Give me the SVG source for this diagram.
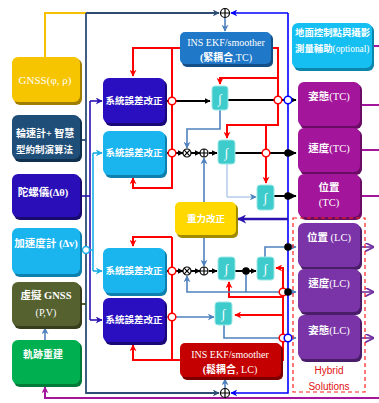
<svg xmlns="http://www.w3.org/2000/svg" width="379" height="403" viewBox="0 0 379 403">
<style>
text{font-family:"Liberation Serif","Noto Sans CJK TC",serif;fill:#fff;dominant-baseline:central;text-anchor:middle}
.b{font-weight:bold}
.sh{opacity:1}
.ln{fill:none;stroke-linejoin:miter}
.rd{stroke:#ff0000;stroke-width:2}
.bk{stroke:#000;stroke-width:2}
.sb{stroke:#4f81bd;stroke-width:1.6}
.ds{stroke:#2e4d75;stroke-width:1.8}
.bl{stroke:#0000ff;stroke-width:1.6}
.ig{stroke:#2a12b0;stroke-width:1.6}
.lb{stroke:#1aaee8;stroke-width:1.6}
.mg{stroke:#a3159b;stroke-width:2}
.pp{stroke:#7030a0;stroke-width:1.6}
.oc{fill:#fff;stroke-width:1.5}
.j{fill:#3ecbcb;stroke:#9ee8e8;stroke-width:1}
</style>
<defs>
<marker id="aK" viewBox="0 0 10 10" refX="9" refY="5" markerWidth="6" markerHeight="6" orient="auto" markerUnits="userSpaceOnUse"><path d="M0,0L10,5L0,10z" fill="#000"/></marker>
<marker id="aR" viewBox="0 0 10 10" refX="9" refY="5" markerWidth="7" markerHeight="7" orient="auto" markerUnits="userSpaceOnUse"><path d="M0,0L10,5L0,10L3,5z" fill="#ff0000"/></marker>
<marker id="aS" viewBox="0 0 10 10" refX="9" refY="5" markerWidth="7" markerHeight="7" orient="auto" markerUnits="userSpaceOnUse"><path d="M0,0L10,5L0,10L3,5z" fill="#4f81bd"/></marker>
<marker id="aD" viewBox="0 0 10 10" refX="9" refY="5" markerWidth="7" markerHeight="7" orient="auto" markerUnits="userSpaceOnUse"><path d="M0,0L10,5L0,10L3,5z" fill="#2e4d75"/></marker>
<marker id="aB" viewBox="0 0 10 10" refX="9" refY="5" markerWidth="7" markerHeight="7" orient="auto" markerUnits="userSpaceOnUse"><path d="M0,0L10,5L0,10L3,5z" fill="#0000ff"/></marker>
<marker id="aI" viewBox="0 0 10 10" refX="9" refY="5" markerWidth="7" markerHeight="7" orient="auto" markerUnits="userSpaceOnUse"><path d="M0,0L10,5L0,10L3,5z" fill="#2a12b0"/></marker>
<marker id="aL" viewBox="0 0 10 10" refX="9" refY="5" markerWidth="7" markerHeight="7" orient="auto" markerUnits="userSpaceOnUse"><path d="M0,0L10,5L0,10L3,5z" fill="#1aaee8"/></marker>
<marker id="aM" viewBox="0 0 10 10" refX="9" refY="5" markerWidth="7" markerHeight="7" orient="auto" markerUnits="userSpaceOnUse"><path d="M0,0L10,5L0,10L3,5z" fill="#a3159b"/></marker>
<marker id="aP" viewBox="0 0 10 10" refX="9" refY="5" markerWidth="9" markerHeight="9" orient="auto" markerUnits="userSpaceOnUse"><path d="M0,0L10,5L0,10" fill="none" stroke="#7030a0" stroke-width="2"/></marker>
<marker id="aG" viewBox="0 0 10 10" refX="9" refY="5" markerWidth="9" markerHeight="9" orient="auto" markerUnits="userSpaceOnUse"><path d="M0,0L10,5L0,10L3,5z" fill="#2a12b0"/></marker>
</defs>
<rect width="379" height="403" fill="#fff"/>

<g id="connectors">
<!-- yellow GNSS -->
<path class="ln" d="M45,57V13H86" stroke="#f5c000" stroke-width="2"/>
<!-- dark steel bus -->
<path class="ln ds" d="M86,13H219" marker-end="url(#aD)"/>
<path class="ln ds" d="M86,13V393H219" marker-end="url(#aD)"/>
<path class="ln ds" d="M80,140H86"/>
<path class="ln" d="M80,304H86" stroke="#3f4a1e" stroke-width="1.8"/>
<!-- sums to EKFs -->
<path class="ln sb" d="M225,18V31" marker-end="url(#aS)"/>
<path class="ln sb" d="M225,388V379" marker-end="url(#aS)"/>
<!-- blue feedback bus -->
<path class="ln bl" d="M288,13H231" marker-end="url(#aB)"/>
<path class="ln bl" d="M288,13V393H231" marker-end="url(#aB)"/>
<!-- gyro -->
<path class="ln ig" d="M80,196H90"/>
<path class="ln ig" d="M90,101V320"/>
<path class="ln ig" d="M90,101H102" marker-end="url(#aI)"/>
<path class="ln ig" d="M90,320H102" marker-end="url(#aI)"/>
<!-- accel -->
<path class="ln lb" d="M80,250H93"/>
<path class="ln lb" d="M93,153V271"/>
<path class="ln lb" d="M93,153H102" marker-end="url(#aL)"/>
<path class="ln lb" d="M93,271H102" marker-end="url(#aL)"/>
<circle cx="86" cy="250" r="3.5" class="oc" stroke="#1aaee8"/>
<!-- red upper (TC) -->
<path class="ln rd" d="M180,48H133V76" marker-end="url(#aR)"/>
<path class="ln rd" d="M172,48V188H133V178" marker-end="url(#aR)"/>
<path class="ln rd" d="M271,48H278V125H227V138" marker-end="url(#aR)"/>
<path class="ln rd" d="M278,78H220V84" marker-end="url(#aR)"/>
<path class="ln rd" d="M266,125V183" marker-end="url(#aR)"/>
<!-- red lower (LC) -->
<path class="ln rd" d="M172,237H133V246" marker-end="url(#aR)"/>
<path class="ln rd" d="M172,237V360H180"/>
<path class="ln rd" d="M172,360H133V345" marker-end="url(#aR)"/>
<path class="ln rd" d="M281,360H283V268H276" marker-end="url(#aR)"/>
<path class="ln rd" d="M283,297H229V282" marker-end="url(#aR)"/>
<path class="ln rd" d="M283,315H235" marker-end="url(#aR)"/>
<!-- black main rows -->
<path class="ln bk" d="M165,101H210" marker-end="url(#aK)"/>
<path class="ln bk" d="M228,100H296" marker-end="url(#aK)"/>
<path class="ln bk" d="M165,153H183" marker-end="url(#aK)"/>
<path class="ln bk" d="M191,153H200" marker-end="url(#aK)"/>
<path class="ln bk" d="M209,153H217" marker-end="url(#aK)"/>
<path class="ln bk" d="M235,153H296" marker-end="url(#aK)"/>
<path class="ln bk" d="M274,196H296" marker-end="url(#aK)"/>
<path class="ln bk" d="M165,271H183" marker-end="url(#aK)"/>
<path class="ln bk" d="M191,271H200" marker-end="url(#aK)"/>
<path class="ln bk" d="M209,271H217" marker-end="url(#aK)"/>
<path class="ln bk" d="M235,271H256" marker-end="url(#aK)"/>
<!-- steel blue -->
<path class="ln sb" d="M220,110V129H187V148" marker-end="url(#aS)"/>
<path class="ln sb" d="M204,202V158" marker-end="url(#aS)"/>
<path class="ln sb" d="M204,237V266" marker-end="url(#aS)"/>
<path class="ln" d="M227,164V197H256" stroke="#8eb4e3" stroke-width="1" marker-end="url(#aS)"/>
<path class="ln sb" d="M265,257V247H296" marker-end="url(#aS)"/>
<path class="ln sb" d="M246,271V292H296" marker-end="url(#aS)"/>
<path class="ln sb" d="M246,292H187V276" marker-end="url(#aS)"/>
<path class="ln sb" d="M165,317H214" marker-end="url(#aS)"/>
<path class="ln sb" d="M224,325V338H296" marker-end="url(#aS)"/>
<path class="ln sb" d="M45,340V328" marker-end="url(#aS)"/>
<!-- gravity feed -->
<path class="ln" d="M288,219H238" stroke="#2a12b0" stroke-width="2.5" marker-end="url(#aG)"/>
<!-- magenta outputs -->
<path class="ln mg" d="M372,46H379M360,105H379M360,150H379M360,196H379"/>
<path class="ln mg" d="M379,398H45V387" marker-end="url(#aM)"/>
<!-- LC outputs -->
<path class="ln pp" d="M360,247H373" marker-end="url(#aP)"/>
<path class="ln pp" d="M360,292H373" marker-end="url(#aP)"/>
<path class="ln pp" d="M360,338H373" marker-end="url(#aP)"/>
<!-- junction markers -->
<g class="oc" stroke="#ff0000">
<circle cx="172" cy="101" r="3.8"/><circle cx="172" cy="153" r="3.8"/>
<circle cx="172" cy="271" r="3.8"/><circle cx="172" cy="317" r="3.8"/>
<circle cx="278" cy="100" r="3.8"/><circle cx="266" cy="153" r="3.8"/>
<circle cx="283" cy="292" r="3.8"/><circle cx="283" cy="338" r="3.8"/>
</g>
<g class="oc" stroke="#0000ff">
<circle cx="288" cy="100" r="3.8"/><circle cx="288" cy="338" r="3.8"/>
</g>
<g fill="#000">
<circle cx="288" cy="153" r="3.8"/><circle cx="288" cy="196" r="3.8"/>
<circle cx="288" cy="247" r="3.8"/><circle cx="288" cy="292" r="3.8"/>
<circle cx="246" cy="271" r="3.8"/>
</g>
<g fill="#fff" stroke="#000" stroke-width="1.2">
<circle cx="187" cy="153" r="4"/><path d="M184.2,150.2L189.8,155.8M189.8,150.2L184.2,155.8"/>
<circle cx="204" cy="153" r="4"/><path d="M200,153H208M204,149V157"/>
<circle cx="187" cy="271" r="4"/><path d="M184.2,268.2L189.8,273.8M189.8,268.2L184.2,273.8"/>
<circle cx="204" cy="271" r="4"/><path d="M200,271H208M204,267V275"/>
<circle cx="225" cy="13" r="4.5"/><path d="M220.5,13H229.5M225,8.5V17.5"/>
<circle cx="225" cy="393" r="4.5"/><path d="M220.5,393H229.5M225,388.5V397.5"/>
</g>
</g>

<g id="gnss"><rect x="14" y="59" width="68" height="46" rx="6" fill="#a07e00"/><rect x="12" y="57" width="68" height="45" rx="6" fill="#f7c400"/><text x="45" y="80" font-size="11">GNSS(φ, ρ)</text></g>
<g id="wheel"><rect x="14" y="117" width="68" height="45" rx="6" fill="#10304f"/><rect x="12" y="115" width="68" height="44" rx="6" fill="#1f4e79"/><text x="16" y="133" font-size="10" class="b" style="text-anchor:start">輪速計+ 智慧</text><text x="16" y="150" font-size="9.5" class="b" style="text-anchor:start">型約制演算法</text></g>
<g id="gyro"><rect x="14" y="176" width="68" height="44" rx="6" fill="#190a70"/><rect x="12" y="174" width="68" height="43" rx="6" fill="#2a0fb8"/><text x="43" y="192" font-size="10.5" class="b">陀螺儀(Δθ)</text></g>
<g id="accel"><rect x="14" y="230" width="68" height="47" rx="6" fill="#0e80ad"/><rect x="12" y="228" width="68" height="46" rx="6" fill="#1ab4ef"/><text x="46" y="243" font-size="10.5" class="b">加速度計 (Δv)</text></g>
<g id="vgnss"><rect x="14" y="284" width="68" height="45" rx="6" fill="#363e1c"/><rect x="12" y="282" width="68" height="44" rx="6" fill="#566130"/><text x="46" y="295" font-size="10.5" class="b">虛擬 GNSS</text><text x="46" y="312" font-size="10">(P,V)</text></g>
<g id="traj"><rect x="14" y="342" width="68" height="45" rx="6" fill="#007a38"/><rect x="12" y="340" width="68" height="44" rx="6" fill="#00b050"/><text x="43" y="354" font-size="10" class="b">軌跡重建</text></g>

<g id="corr1"><rect x="105" y="80" width="62" height="46" rx="6" fill="#1a0878"/><rect x="103" y="78" width="62" height="45" rx="6" fill="#2a0fc0"/><text x="134" y="101" font-size="9.5" class="b">系統誤差改正</text></g>
<g id="corr2"><rect x="105" y="133" width="62" height="45" rx="6" fill="#0e80ad"/><rect x="103" y="131" width="62" height="44" rx="6" fill="#1ab4ef"/><text x="134" y="153" font-size="9.5" class="b">系統誤差改正</text></g>
<g id="corr3"><rect x="105" y="250" width="62" height="46" rx="6" fill="#0e80ad"/><rect x="103" y="248" width="62" height="45" rx="6" fill="#1ab4ef"/><text x="134" y="271" font-size="9.5" class="b">系統誤差改正</text></g>
<g id="corr4"><rect x="105" y="300" width="62" height="45" rx="6" fill="#1a0878"/><rect x="103" y="298" width="62" height="44" rx="6" fill="#2a0fc0"/><text x="134" y="320" font-size="9.5" class="b">系統誤差改正</text></g>

<g id="ekfTC"><rect x="182" y="34" width="91" height="33" rx="5" fill="#154f88"/><rect x="180" y="32" width="91" height="32" rx="5" fill="#1f78c8"/><text x="226" y="42" font-size="10">INS EKF/smoother</text><text x="226" y="57" font-size="10"><tspan class="b">(緊耦合</tspan>,TC)</text></g>
<g id="ekfLC"><rect x="182" y="345" width="101" height="35" rx="5" fill="#7a0000"/><rect x="180" y="343" width="101" height="34" rx="5" fill="#c40000"/><text x="230" y="354" font-size="10">INS EKF/smoother</text><text x="230" y="369" font-size="10"><tspan class="b">(鬆耦合</tspan>, LC)</text></g>
<g id="gcp"><rect x="294" y="25" width="80" height="46" rx="6" fill="#0c86ab"/><rect x="292" y="23" width="80" height="45" rx="6" fill="#16bff2"/><text x="295" y="33" font-size="9.4" class="b" style="text-anchor:start">地面控制點與攝影</text><text x="295" y="49" font-size="9.4" style="text-anchor:start"><tspan class="b">測量輔助</tspan>(optional)</text></g>

<g id="attTC"><rect x="300" y="84" width="62" height="45" rx="6" fill="#6a0c64"/><rect x="298" y="82" width="62" height="44" rx="6" fill="#a3159b"/><text x="329" y="96" font-size="10.5"><tspan class="b">姿態</tspan>(TC)</text></g>
<g id="velTC"><rect x="300" y="130" width="62" height="45" rx="6" fill="#6a0c64"/><rect x="298" y="128" width="62" height="44" rx="6" fill="#a3159b"/><text x="329" y="148" font-size="10.5"><tspan class="b">速度</tspan>(TC)</text></g>
<g id="posTC"><rect x="300" y="176" width="62" height="44" rx="6" fill="#6a0c64"/><rect x="298" y="174" width="62" height="43" rx="6" fill="#a3159b"/><text x="329" y="187" font-size="10.5" class="b">位置</text><text x="329" y="202" font-size="10.5">(TC)</text></g>

<g id="hybrid"><rect x="293" y="218" width="72" height="174" fill="none" stroke="#ff2020" stroke-width="1.2" stroke-dasharray="4,3"/><text x="329" y="370" font-size="10" style="fill:#e01010;font-family:'Liberation Sans',sans-serif">Hybrid</text><text x="329" y="386" font-size="10" style="fill:#e01010;font-family:'Liberation Sans',sans-serif">Solutions</text></g>
<g id="posLC"><rect x="300" y="225" width="62" height="45" rx="6" fill="#4a1d68"/><rect x="298" y="223" width="62" height="44" rx="6" fill="#7a34a8"/><text x="329" y="237" font-size="10.5"><tspan class="b">位置</tspan> (LC)</text></g>
<g id="velLC"><rect x="300" y="271" width="62" height="44" rx="6" fill="#4a1d68"/><rect x="298" y="269" width="62" height="43" rx="6" fill="#7a34a8"/><text x="329" y="283" font-size="10.5"><tspan class="b">速度</tspan>(LC)</text></g>
<g id="attLC"><rect x="300" y="317" width="62" height="45" rx="6" fill="#4a1d68"/><rect x="298" y="315" width="62" height="44" rx="6" fill="#7a34a8"/><text x="329" y="330" font-size="10.5"><tspan class="b">姿態</tspan>(LC)</text></g>

<g id="gravity"><rect x="177" y="204" width="61" height="34" rx="5" fill="#a08a00"/><rect x="175" y="202" width="61" height="33" rx="5" fill="#ffd800"/><text x="206" y="219" font-size="9.5" class="b">重力改正</text></g>

<g id="J1"><rect class="j" x="212" y="86" width="16" height="24" rx="3"/><text x="220" y="98" font-size="13">∫</text></g>
<g id="J2"><rect class="j" x="218" y="140" width="17" height="24" rx="3"/><text x="226.5" y="152" font-size="13">∫</text></g>
<g id="J3"><rect class="j" x="257" y="185" width="17" height="25" rx="3"/><text x="265.5" y="197" font-size="13">∫</text></g>
<g id="J4"><rect class="j" x="218" y="257" width="17" height="23" rx="3"/><text x="226.5" y="268" font-size="13">∫</text></g>
<g id="J5"><rect class="j" x="257" y="257" width="17" height="23" rx="3"/><text x="265.5" y="268" font-size="13">∫</text></g>
<g id="J6"><rect class="j" x="215" y="302" width="17" height="23" rx="3"/><text x="223.5" y="313" font-size="13">∫</text></g>
</svg>
